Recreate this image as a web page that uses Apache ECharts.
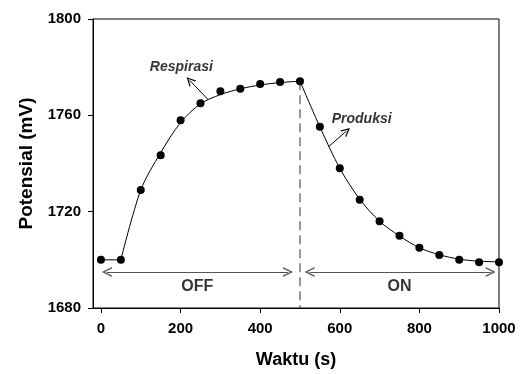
<!DOCTYPE html>
<html>
<head>
<meta charset="utf-8">
<script src="https://cdn.jsdelivr.net/npm/echarts@6/dist/echarts.min.js"></script>
<style>
html,body{margin:0;padding:0;background:#fff;}
#chart{width:523px;height:374px;}
</style>
</head>
<body>
<div id="chart"></div>
<script>
// Time (s)
var times = [0, 50, 100, 150, 200, 250, 300, 350, 400, 450, 500, 550, 600, 650, 700, 750, 800, 850, 900, 950, 1000];
// Measured potential (mV)
var potential = [1700, 1700, 1729, 1743.4, 1758, 1765, 1770, 1771, 1773, 1773.8, 1774.2, 1755.3, 1738, 1725, 1716, 1710, 1705, 1702, 1700, 1699, 1699];
// Fitted curve (mV) at the same times
var fitted = [1700, 1700, 1729, 1744.5, 1757, 1764.8, 1768.6, 1771, 1772.6, 1773.6, 1774.2, 1755.2, 1738, 1725.2, 1716, 1709.9, 1705, 1702.1, 1700.3, 1699.4, 1699.2];
var xTicks = [0, 200, 400, 600, 800, 1000];
var yTicks = [1680, 1720, 1760, 1800];
// Phase annotations
var switchTime = 500;
var phaseArrowLevel = 1695;
var offRange = [15, 470];
var onRange = [524, 979];
var phaseLabels = ['OFF', 'ON'];
var phaseLabelLevel = 1689;
var offLabelX = 242;
var onLabelX = 750;
// Pointer annotations: [label, labelX, labelY, arrowFromX, arrowFromY, arrowToX, arrowToY]
var respirasi = ['Respirasi', 202, 1780, 270, 1766.4, 223, 1774.5];
var produksi = ['Produksi', 655, 1758.5, 572, 1747, 617, 1753.5];

var pts = times.map(function (t, i) { return [t, potential[i]]; });
var fit = times.map(function (t, i) { return [t, fitted[i]]; });
var seg0 = fit.slice(0, 2);
var seg1 = fit.slice(1, 11);
var seg2 = fit.slice(10);
var chevron = 'path://M0,10 L5,0 L10,10 L8.5,10 L5,3 L1.5,10 Z';
var font = 'Arial, "Liberation Sans", sans-serif';

var chart = echarts.init(document.getElementById('chart'), null, {renderer: 'canvas'});
chart.setOption({
  animation: false,
  grid: {left: 93, right: 24, top: 19, bottom: 63, show: true, borderColor: '#000', borderWidth: 1},
  xAxis: {
    type: 'value', min: -20, max: 1000,
    name: 'Waktu (s)', nameLocation: 'middle', nameGap: 43,
    nameTextStyle: {fontFamily: font, fontWeight: 'bold', fontSize: 18, color: '#000'},
    axisLine: {show: true, onZero: false, lineStyle: {color: '#000', width: 1}},
    axisTick: {show: true, inside: false, length: 5, customValues: xTicks, lineStyle: {color: '#000'}},
    axisLabel: {customValues: xTicks, margin: 13, fontFamily: font, fontWeight: 'bold', fontSize: 15, color: '#000',
      formatter: function (v) { return String(v); }},
    splitLine: {show: false}
  },
  yAxis: {
    type: 'value', min: 1680, max: 1800, interval: 40,
    name: 'Potensial (mV)', nameLocation: 'middle', nameGap: 56,
    nameTextStyle: {fontFamily: font, fontWeight: 'bold', fontSize: 19, color: '#000'},
    axisLine: {show: true, onZero: false, lineStyle: {color: '#000', width: 1}},
    axisTick: {show: true, inside: false, length: 5, customValues: yTicks, lineStyle: {color: '#000'}},
    axisLabel: {customValues: yTicks, margin: 12, fontFamily: font, fontWeight: 'bold', fontSize: 15, color: '#000',
      formatter: function (v) { return String(v); }},
    splitLine: {show: false}
  },
  series: [
    {type: 'line', data: seg0, symbol: 'none', lineStyle: {color: '#000', width: 1}, z: 3},
    {type: 'line', data: seg1, symbol: 'none', smooth: 0.3, lineStyle: {color: '#000', width: 1}, z: 3},
    {type: 'line', data: seg2, symbol: 'none', smooth: 0.3, lineStyle: {color: '#000', width: 1}, z: 3},
    {type: 'line', data: [[switchTime, potential[10]], [switchTime, 1680]], symbol: 'none',
      lineStyle: {color: '#555', width: 1.2, type: [9, 5]}, z: 2},
    {type: 'scatter', data: pts, symbol: 'circle', symbolSize: 8, itemStyle: {color: '#000', opacity: 1}, z: 5},
    {
      type: 'line', data: [], symbol: 'none',
      markLine: {
        silent: true, animation: false,
        symbol: [chevron, chevron], symbolSize: [10, 10],
        label: {show: false},
        lineStyle: {color: '#555', width: 1.2, type: 'solid'},
        data: [
          [{coord: [offRange[0], phaseArrowLevel]}, {coord: [offRange[1], phaseArrowLevel]}],
          [{coord: [onRange[0], phaseArrowLevel]}, {coord: [onRange[1], phaseArrowLevel]}],
          [{coord: [respirasi[3], respirasi[4]], symbol: 'none', lineStyle: {color: '#000', width: 1}},
           {coord: [respirasi[5], respirasi[6]], symbol: chevron, symbolSize: [9, 9]}],
          [{coord: [produksi[3], produksi[4]], symbol: 'none', lineStyle: {color: '#000', width: 1}},
           {coord: [produksi[5], produksi[6]], symbol: chevron, symbolSize: [9, 9]}]
        ]
      }
    },
    {
      type: 'scatter', symbolSize: 0, z: 6,
      data: [
        {value: [offLabelX, phaseLabelLevel], name: phaseLabels[0]},
        {value: [onLabelX, phaseLabelLevel], name: phaseLabels[1]}
      ],
      label: {show: true, position: 'inside', formatter: '{b}', fontFamily: font, fontWeight: 'bold', fontSize: 16, color: '#000'}
    },
    {
      type: 'scatter', symbolSize: 0, z: 6,
      data: [
        {value: [respirasi[1], respirasi[2]], name: respirasi[0]},
        {value: [produksi[1], produksi[2]], name: produksi[0]}
      ],
      label: {show: true, position: 'inside', formatter: '{b}', fontFamily: font, fontWeight: 'bold', fontStyle: 'italic', fontSize: 14, color: '#000'}
    }
  ]
});
</script>
</body>
</html>
